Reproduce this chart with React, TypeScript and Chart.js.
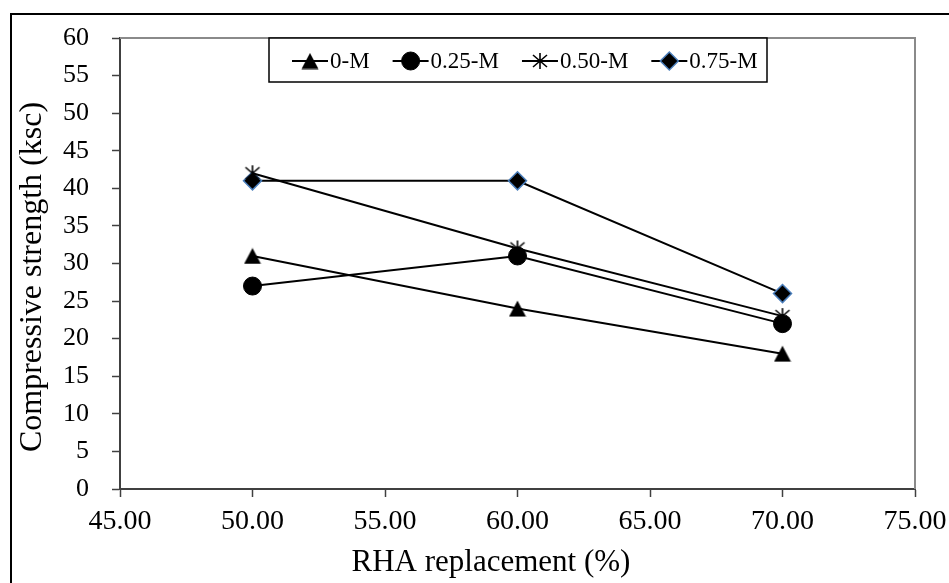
import React, { useEffect, useRef } from "react";
import { Chart, registerables } from "chart.js";

Chart.register(...registerables);

const xValues = [50, 60, 70];
const seriesLabels = ["0-M", "0.25-M", "0.50-M", "0.75-M"];
const series0M = [31, 24, 18];
const series025M = [27, 31, 22];
const series050M = [42, 32, 23];
const series075M = [41, 41, 26];
const xTitle = "RHA replacement (%)";
const yTitle = "Compressive strength (ksc)";

const FONT = "'Liberation Serif', 'Times New Roman', serif";

function makeTriangle(): HTMLCanvasElement {
  const c = document.createElement("canvas");
  c.width = 18;
  c.height = 17;
  const ctx = c.getContext("2d")!;
  ctx.fillStyle = "#000";
  ctx.beginPath();
  ctx.moveTo(9, 0.5);
  ctx.lineTo(17.5, 16.5);
  ctx.lineTo(0.5, 16.5);
  ctx.closePath();
  ctx.fill();
  return c;
}

function makeStar(): HTMLCanvasElement {
  const c = document.createElement("canvas");
  c.width = 18;
  c.height = 18;
  const ctx = c.getContext("2d")!;
  ctx.strokeStyle = "#000";
  ctx.lineWidth = 1.6;
  ctx.beginPath();
  ctx.moveTo(2, 3);
  ctx.lineTo(16, 15);
  ctx.moveTo(16, 3);
  ctx.lineTo(2, 15);
  ctx.moveTo(9, 1);
  ctx.lineTo(9, 17);
  ctx.stroke();
  return c;
}

function drawMarker(ctx: CanvasRenderingContext2D, ds: any, x: number, y: number) {
  const style = ds.pointStyle;
  if (style instanceof HTMLCanvasElement) {
    ctx.drawImage(style, x - style.width / 2, y - style.height / 2);
    return;
  }
  const r = ds.pointRadius;
  ctx.beginPath();
  if (style === "circle") {
    ctx.arc(x, y, r, 0, Math.PI * 2);
  } else if (style === "rectRot") {
    ctx.moveTo(x, y - r);
    ctx.lineTo(x + r, y);
    ctx.lineTo(x, y + r);
    ctx.lineTo(x - r, y);
    ctx.closePath();
  }
  ctx.fillStyle = ds.pointBackgroundColor;
  ctx.fill();
  ctx.lineWidth = ds.pointBorderWidth;
  ctx.strokeStyle = ds.pointBorderColor;
  ctx.stroke();
}

const decorPlugin = {
  id: "decor",
  beforeDraw(chart: any) {
    const ctx = chart.ctx as CanvasRenderingContext2D;
    ctx.save();
    ctx.fillStyle = "#fff";
    ctx.fillRect(0, 0, chart.width, chart.height);
    ctx.strokeStyle = "#000";
    ctx.lineWidth = 2;
    ctx.strokeRect(11, 14, chart.width + 50, chart.height + 50);
    ctx.restore();
  },
  beforeDatasetsDraw(chart: any) {
    const ctx = chart.ctx as CanvasRenderingContext2D;
    const a = chart.chartArea;
    ctx.save();
    ctx.strokeStyle = "#8a8a8a";
    ctx.lineWidth = 2;
    ctx.beginPath();
    ctx.moveTo(a.left, a.top);
    ctx.lineTo(a.right, a.top);
    ctx.lineTo(a.right, a.bottom);
    ctx.stroke();
    ctx.restore();
  },
  afterDraw(chart: any) {
    const ctx = chart.ctx as CanvasRenderingContext2D;
    const a = chart.chartArea;
    ctx.save();
    // axis titles
    ctx.fillStyle = "#000";
    ctx.textAlign = "center";
    ctx.textBaseline = "middle";
    ctx.font = `31px ${FONT}`;
    ctx.fillText(xTitle, 491, 563);
    ctx.save();
    ctx.font = `32px ${FONT}`;
    ctx.translate(33, 277);
    ctx.rotate(-Math.PI / 2);
    ctx.fillText(yTitle, 0, 0);
    ctx.restore();

    // legend
    const boxL = 269, boxT = a.top, boxR = 767, boxB = 82;
    ctx.fillStyle = "#fff";
    ctx.fillRect(boxL, boxT, boxR - boxL, boxB - boxT);
    ctx.strokeStyle = "#000";
    ctx.lineWidth = 1.5;
    ctx.strokeRect(boxL, boxT, boxR - boxL, boxB - boxT);
    ctx.font = `23px ${FONT}`;
    ctx.textAlign = "left";
    ctx.textBaseline = "middle";
    const cy = (boxT + boxB) / 2 + 1;
    let x = boxL + 23;
    chart.data.datasets.forEach((ds: any) => {
      ctx.strokeStyle = "#000";
      ctx.lineWidth = 2;
      ctx.beginPath();
      ctx.moveTo(x, cy);
      ctx.lineTo(x + 36, cy);
      ctx.stroke();
      drawMarker(ctx, ds, x + 18, cy);
      ctx.fillStyle = "#000";
      ctx.fillText(ds.label, x + 38, cy + 1);
      const w = ctx.measureText(ds.label).width;
      x = x + 38 + w + 23;
    });
    ctx.restore();
  },
};

export default function App() {
  const ref = useRef<HTMLCanvasElement>(null);
  useEffect(() => {
    const tri = makeTriangle();
    const star = makeStar();
    const base = {
      borderColor: "#000",
      borderWidth: 2,
      pointBackgroundColor: "#000",
      pointBorderColor: "#000",
      pointBorderWidth: 1,
      pointRadius: 9,
      pointHoverRadius: 9,
      tension: 0,
      fill: false,
    };
    const toPts = (vals: number[]) => vals.map((v, i) => ({ x: xValues[i], y: v }));
    const chart = new Chart(ref.current!, {
      type: "line",
      data: {
        datasets: [
          { ...base, label: seriesLabels[0], data: toPts(series0M), pointStyle: tri },
          { ...base, label: seriesLabels[1], data: toPts(series025M), pointStyle: "circle" },
          { ...base, label: seriesLabels[2], data: toPts(series050M), pointStyle: star },
          {
            ...base,
            label: seriesLabels[3],
            data: toPts(series075M),
            pointStyle: "rectRot",
            pointBorderColor: "#4a7ebb",
            pointBorderWidth: 1.5,
          },
        ] as any,
      },
      options: {
        responsive: false,
        animation: false,
        devicePixelRatio: 1,
        layout: { padding: { top: 38, right: 34, left: 0, bottom: 0 } },
        plugins: { legend: { display: false }, tooltip: { enabled: false }, title: { display: false } },
        scales: {
          x: {
            type: "linear",
            min: 45,
            max: 75,
            ticks: {
              stepSize: 5,
              autoSkip: false,
              maxRotation: 0,
              padding: 8,
              color: "#000",
              font: { family: FONT, size: 28 },
              callback: (v: any) => Number(v).toFixed(2),
            },
            grid: { drawOnChartArea: false, drawTicks: true, tickLength: 8, color: "#404040", tickWidth: 1.5 },
            border: { color: "#404040", width: 2 },
            afterFit: (s: any) => {
              s.height = 94;
              s.paddingLeft = 0;
              s.paddingRight = 0;
            },
          },
          y: {
            min: 0,
            max: 60,
            ticks: {
              stepSize: 5,
              autoSkip: false,
              padding: 23,
              color: "#000",
              font: { family: FONT, size: 26 },
            },
            grid: { drawOnChartArea: false, drawTicks: true, tickLength: 8, color: "#404040", tickWidth: 1.5 },
            border: { color: "#404040", width: 2 },
            afterFit: (s: any) => {
              s.width = 120;
              s.paddingTop = 0;
              s.paddingBottom = 0;
            },
          },
        },
      } as any,
      plugins: [decorPlugin],
    });
    return () => chart.destroy();
  }, []);
  return (
    <div style={{ position: "absolute", left: 0, top: 0, width: 949, height: 583, background: "#fff" }}>
      <canvas ref={ref} width={949} height={583} style={{ display: "block" }} />
    </div>
  );
}
